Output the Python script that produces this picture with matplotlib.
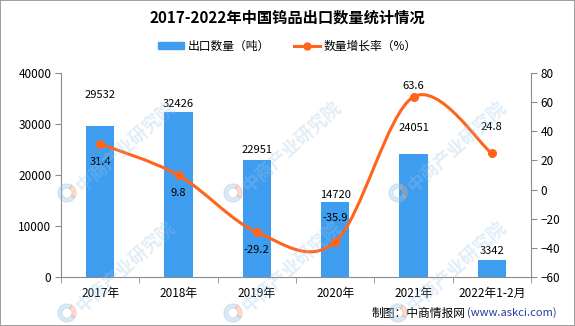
import matplotlib
matplotlib.use("Agg")
import matplotlib.pyplot as plt
from matplotlib.path import Path
from matplotlib.patches import PathPatch, Wedge
from matplotlib.lines import Line2D
from matplotlib.patches import Patch
import numpy as np

plt.rcParams['font.family'] = ['Noto Sans CJK SC', 'DejaVu Sans']

# data
years = ["2017年", "2018年", "2019年", "2020年", "2021年", "2022年1-2月"]
export_qty = [29532, 32426, 22951, 14720, 24051, 3342]
growth = [31.4, 9.8, -29.2, -35.9, 63.6, 24.8]

# label offsets in pixels (where the original put the numbers)
qty_off = [31, 8, 10, 7, 26, 9]
growth_off = [-18, -18, -18, 24, 11, 26]

bar_col = "#3f9df0"
line_col = "#ff641a"
axis_col = "#8c8c8c"

fig = plt.figure(figsize=(5.75, 3.26), dpi=100)
fig.patch.set_edgecolor("#a0a0a0")
fig.patch.set_linewidth(1.2)

ax = fig.add_axes([61/575, 49/326, 470/575, 204/326])
ax2 = ax.twinx()

x = np.arange(len(years))
ax.bar(x, export_qty, width=0.36, color=bar_col, zorder=2)
ax.set_xlim(-0.5, len(years) - 0.5)
ax.set_ylim(0, 40000)
ax.set_yticks(range(0, 40001, 10000))
ax2.set_ylim(-60, 80)
ax2.set_yticks(range(-60, 81, 20))

for xi, v, off in zip(x, export_qty, qty_off):
    ax.annotate(str(v), (xi, v), xytext=(0, off), textcoords="offset pixels",
                ha="center", va="center", fontsize=8, color="black")

# smooth line (catmull-rom -> bezier)
pts = np.column_stack([x, growth]).astype(float)
ext = np.vstack([pts[0], pts, pts[-1]])
verts = [tuple(pts[0])]
codes = [Path.MOVETO]
for i in range(len(pts) - 1):
    p0, p1, p2, p3 = ext[i], ext[i + 1], ext[i + 2], ext[i + 3]
    c1 = p1 + (p2 - p0) / 6
    c2 = p2 - (p3 - p1) / 6
    verts += [tuple(c1), tuple(c2), tuple(p2)]
    codes += [Path.CURVE4] * 3
ax2.add_patch(PathPatch(Path(verts, codes), facecolor="none", edgecolor=line_col,
                        lw=2.2, zorder=3, capstyle="round"))
ax2.plot(x, growth, "o", color=line_col, markersize=5.5, zorder=4)

for xi, v, off in zip(x, growth, growth_off):
    ax2.annotate(f"{v}", (xi, v), xytext=(0, off), textcoords="offset pixels",
                 ha="center", va="center", fontsize=8, color="black", zorder=5)

# axes styling
for a in (ax, ax2):
    for s in a.spines.values():
        s.set_color(axis_col)
    a.spines["top"].set_visible(False)
ax.spines["right"].set_visible(False)
ax2.spines["left"].set_visible(False)
ax2.spines["bottom"].set_visible(False)

ax.set_xticks(x)
ax.set_xticklabels(years)
ax.set_xticks(np.arange(-0.5, len(years), 1), minor=True)
ax.tick_params(axis="x", which="major", length=0, pad=7, labelsize=8.5)
ax.tick_params(axis="x", which="minor", length=4, color=axis_col)
ax.tick_params(axis="y", length=4, color=axis_col, labelsize=8.5, pad=3)
ax2.tick_params(axis="y", length=4, color=axis_col, labelsize=8.5, pad=3)

# title, legend, source
fig.text(0.5, 1 - 18/326, "2017-2022年中国钨品出口数量统计情况", ha="center", va="center",
         fontsize=11, fontweight="bold")
handles = [Patch(color=bar_col),
           Line2D([0], [0], color=line_col, lw=2.2, marker="o", markersize=5)]
fig.legend(handles, ["出口数量（吨）", "数量增长率（%）"], loc="center",
           bbox_to_anchor=(0.5, 1 - 46/326), ncol=2, frameon=False, fontsize=8.5,
           handlelength=2.2, handleheight=0.6, columnspacing=2.0, handletextpad=0.3)
fig.text(466/575, 1 - 313/326, "制图：中商情报网", ha="right", va="center", fontsize=8.5)
fig.text(467/575, 1 - 313/326, "(www.askci.com)", ha="left", va="center", fontsize=8,
         color="#1f3f9a")

# faint watermark tiles (only the ones that sit fully inside)
for wy in (193, 313):
    for wx in (67, 233, 398):
        fx, fy = wx/575, 1 - wy/326
        fig.patches.append(Wedge((wx, 326 - wy), 9, 60, 330, width=4,
                                 transform=None, color="#9cc4e6", alpha=0.35, zorder=10))
        fig.patches.append(Wedge((wx, 326 - wy), 9, 330, 420, width=4,
                                 transform=None, color="#f0a080", alpha=0.35, zorder=10))
        fig.text(fx + 12/575, fy + 4/326, "中商产业研究院", rotation=42,
                 rotation_mode="anchor", ha="left", va="center", fontsize=13,
                 fontweight="bold", color="#9cc4e6", alpha=0.3, zorder=10)

fig.savefig("out.png", dpi=100)
